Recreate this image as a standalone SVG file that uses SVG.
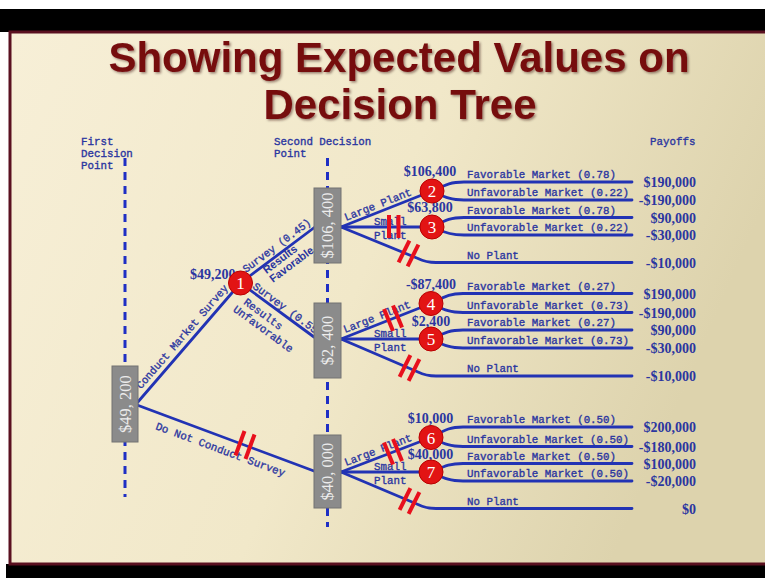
<svg xmlns="http://www.w3.org/2000/svg" width="765" height="578" viewBox="0 0 765 578">
<defs>
<linearGradient id="bg" x1="0" y1="0" x2="1" y2="0.3">
<stop offset="0" stop-color="#f7efd7"/>
<stop offset="0.55" stop-color="#f1e8c9"/>
<stop offset="1" stop-color="#ddd3ad"/>
</linearGradient>
<filter id="sh" x="-5%" y="-20%" width="110%" height="140%">
<feDropShadow dx="1.5" dy="1.5" stdDeviation="1" flood-color="#2a0000" flood-opacity="0.45"/>
</filter>
<style>
.t{font-family:"Liberation Sans",Arial,sans-serif;font-weight:bold;font-size:42px;fill:#760a0e;text-anchor:middle}
.m{font-family:"Liberation Mono","DejaVu Sans Mono",monospace;font-size:10.8px;fill:#2b36a0;stroke:#2b36a0;stroke-width:0.35}
.mb{font-family:"Liberation Serif","Times New Roman",serif;font-size:14px;font-weight:bold;fill:#2b36a0}
.pay{text-anchor:end}
.ev{text-anchor:middle}
.bs{font-family:"Liberation Sans",Arial,sans-serif;font-size:11px;font-weight:bold;fill:#2b36a0}
.br{stroke:#2233b4;stroke-width:2.8;fill:none;stroke-linecap:round;stroke-linejoin:round}
.dash{stroke:#1f2fc4;stroke-width:3;stroke-dasharray:8 6;fill:none}
.sq{fill:#8b8b8b;stroke:#737373;stroke-width:1}
.sqt{font-family:"Liberation Serif","Times New Roman",serif;font-size:16.5px;fill:#ececec;text-anchor:middle}
.ci{fill:#e21414;stroke:#b80000;stroke-width:1}
.cn{font-family:"Liberation Serif","Times New Roman",serif;font-size:17px;fill:#ffffff;text-anchor:middle}
.cut{stroke:#e8101c;stroke-width:4;fill:none}
</style>
</defs>

<rect x="0" y="0" width="765" height="578" fill="#ffffff"/>
<rect x="0" y="9" width="765" height="23" fill="#000000"/>
<rect x="6" y="564" width="759" height="14" fill="#000000"/>
<rect x="10" y="32" width="760" height="532" fill="url(#bg)" stroke="#5a1020" stroke-width="3"/>

<g id="title" filter="url(#sh)">
<text class="t" x="399" y="72">Showing Expected Values on</text>
<text class="t" x="400" y="119">Decision Tree</text>
</g>

<g id="headers">
<text class="m" x="81" y="145">First</text>
<text class="m" x="81" y="157">Decision</text>
<text class="m" x="81" y="169">Point</text>
<text class="m" x="274" y="145">Second Decision</text>
<text class="m" x="274" y="157">Point</text>
<text class="m" x="650" y="145">Payoffs</text>
</g>

<g id="guides">
<line class="dash" x1="125" y1="158" x2="125" y2="497"/>
<line class="dash" x1="327.5" y1="158" x2="327.5" y2="527"/>
</g>

<g id="connectors">
<path class="br" d="M137,403 L240.5,283"/>
<path class="br" d="M137,405 L314,471"/>
<path class="br" d="M240.5,283 L315,227"/>
<path class="br" d="M240.5,283 L314,337"/>

<path class="br" d="M341,227 L432,191"/>
<path class="br" d="M341,227 H432"/>
<path class="br" d="M341,227 L418,258.5 Q426,262.5 436,262.5 H632"/>
<path class="br" d="M432,191 C447,184 451,182 464,182 H632"/>
<path class="br" d="M432,191 C447,198 451,200 464,200 H632"/>
<path class="br" d="M432,227 C447,219.5 451,217.5 464,217.5 H632"/>
<path class="br" d="M432,227 C447,233 451,235 464,235 H632"/>

<path class="br" d="M341,339 L431,303.5"/>
<path class="br" d="M341,339 H431"/>
<path class="br" d="M341,339 L418,372 Q426,376 436,376 H632"/>
<path class="br" d="M431,303.5 C446,296 450,293.5 463,293.5 H632"/>
<path class="br" d="M431,303.5 C446,310.5 450,312.5 463,312.5 H632"/>
<path class="br" d="M431,339 C446,332 450,330 463,330 H632"/>
<path class="br" d="M431,339 C446,346 450,348 463,348 H632"/>

<path class="br" d="M341,472 L431,437.5"/>
<path class="br" d="M341,472 H431"/>
<path class="br" d="M341,472 L418,504.5 Q426,508.5 436,508.5 H632"/>
<path class="br" d="M431,437.5 C446,429.5 450,427 463,427 H632"/>
<path class="br" d="M431,437.5 C446,444.5 450,446.5 463,446.5 H632"/>
<path class="br" d="M431,472 C446,465.5 450,463.5 463,463.5 H632"/>
<path class="br" d="M431,472 C446,479 450,481 463,481 H632"/>
</g>

<g id="branch-labels">
<text class="m" transform="translate(141,389.6) rotate(-49.1)" textLength="134" lengthAdjust="spacingAndGlyphs">Conduct Market Survey</text>
<text class="m" transform="translate(155,429) rotate(20.3)" textLength="137" lengthAdjust="spacing">Do Not Conduct Survey</text>
<text class="m" transform="translate(246,273) rotate(-36.9)" textLength="82" lengthAdjust="spacingAndGlyphs">Survey (0.45)</text>
<g transform="translate(240.5,283) rotate(-36.9)">
<text class="bs" x="26" y="8.5">Results</text>
<text class="bs" x="26" y="19.5">Favorable</text>
</g>
<g transform="translate(240.5,283) rotate(36.3)">
<text class="m" x="12" y="-3">Survey (0.55)</text>
<text class="m" x="14" y="15">Results</text>
<text class="m" x="10" y="27">Unfavorable</text>
</g>

<text class="m" transform="translate(346,221) rotate(-21.6)">Large Plant</text>
<text class="m" x="374" y="225">Small</text>
<text class="m" x="374" y="239">Plant</text>
<text class="m" transform="translate(345,333) rotate(-21.3)">Large Plant</text>
<text class="m" x="374" y="337">Small</text>
<text class="m" x="374" y="351">Plant</text>
<text class="m" transform="translate(346,466) rotate(-21)">Large Plant</text>
<text class="m" x="374" y="470">Small</text>
<text class="m" x="374" y="484">Plant</text>

<text class="m" x="467" y="178">Favorable Market (0.78)</text>
<text class="m" x="467" y="196">Unfavorable Market (0.22)</text>
<text class="m" x="467" y="213.5">Favorable Market (0.78)</text>
<text class="m" x="467" y="231">Unfavorable Market (0.22)</text>
<text class="m" x="467" y="258.5">No Plant</text>

<text class="m" x="467" y="289.5">Favorable Market (0.27)</text>
<text class="m" x="467" y="308.5">Unfavorable Market (0.73)</text>
<text class="m" x="467" y="326">Favorable Market (0.27)</text>
<text class="m" x="467" y="344">Unfavorable Market (0.73)</text>
<text class="m" x="467" y="372">No Plant</text>

<text class="m" x="467" y="423">Favorable Market (0.50)</text>
<text class="m" x="467" y="442.5">Unfavorable Market (0.50)</text>
<text class="m" x="467" y="459.5">Favorable Market (0.50)</text>
<text class="m" x="467" y="477">Unfavorable Market (0.50)</text>
<text class="m" x="467" y="504.5">No Plant</text>
</g>

<g id="payoffs">
<text class="mb pay" x="696" y="187">$190,000</text>
<text class="mb pay" x="696" y="205">-$190,000</text>
<text class="mb pay" x="696" y="222.5">$90,000</text>
<text class="mb pay" x="696" y="240">-$30,000</text>
<text class="mb pay" x="696" y="267.5">-$10,000</text>
<text class="mb pay" x="696" y="298.5">$190,000</text>
<text class="mb pay" x="696" y="317.5">-$190,000</text>
<text class="mb pay" x="696" y="335">$90,000</text>
<text class="mb pay" x="696" y="353">-$30,000</text>
<text class="mb pay" x="696" y="381">-$10,000</text>
<text class="mb pay" x="696" y="432">$200,000</text>
<text class="mb pay" x="696" y="451.5">-$180,000</text>
<text class="mb pay" x="696" y="468.5">$100,000</text>
<text class="mb pay" x="696" y="486">-$20,000</text>
<text class="mb pay" x="696" y="513.5">$0</text>
</g>

<g id="cuts">
<line class="cut" x1="389" y1="215" x2="389" y2="238"/>
<line class="cut" x1="398.5" y1="215" x2="398.5" y2="238"/>
<line class="cut" x1="398.6" y1="262.3" x2="409.4" y2="240.7"/>
<line class="cut" x1="407.6" y1="266.3" x2="418.4" y2="244.7"/>
<line class="cut" x1="384" y1="309" x2="393" y2="331"/>
<line class="cut" x1="393" y1="305.5" x2="402" y2="327.5"/>
<line class="cut" x1="399.6" y1="376.8" x2="410.4" y2="355.2"/>
<line class="cut" x1="408.6" y1="380.8" x2="419.4" y2="359.2"/>
<line class="cut" x1="384" y1="442.5" x2="393" y2="464.5"/>
<line class="cut" x1="393" y1="439" x2="402" y2="461"/>
<line class="cut" x1="399.6" y1="509.8" x2="410.4" y2="488.2"/>
<line class="cut" x1="408.6" y1="513.8" x2="419.4" y2="492.2"/>
<line class="cut" x1="235.5" y1="455.5" x2="244.5" y2="431"/>
<line class="cut" x1="245.5" y1="459" x2="254.5" y2="434.5"/>
</g>

<g id="ev-labels">
<text class="mb" x="190" y="279">$49,200</text>
<text class="mb ev" x="430" y="176">$106,400</text>
<text class="mb ev" x="430" y="212">$63,800</text>
<text class="mb ev" x="431" y="289">-$87,400</text>
<text class="mb ev" x="431" y="326">$2,400</text>
<text class="mb ev" x="430.5" y="423">$10,000</text>
<text class="mb ev" x="430.5" y="459">$40,000</text>
</g>

<g id="node-s0"><rect class="sq" x="112" y="366" width="26" height="76"/><text class="sqt" transform="translate(125,404) rotate(-90)" y="5.5">$49, 200</text></g>
<g id="node-s1"><rect class="sq" x="314" y="188" width="27" height="75"/><text class="sqt" transform="translate(327.5,225.5) rotate(-90)" y="5.5">$106, 400</text></g>
<g id="node-s2"><rect class="sq" x="314" y="303" width="27" height="75"/><text class="sqt" transform="translate(327.5,340.5) rotate(-90)" y="5.5">$2, 400</text></g>
<g id="node-s3"><rect class="sq" x="314" y="435" width="27" height="73"/><text class="sqt" transform="translate(327.5,471.5) rotate(-90)" y="5.5">$40, 000</text></g>

<g id="node-c1"><circle class="ci" cx="240.5" cy="283" r="12"/><text class="cn" x="240.5" y="289">1</text></g>
<g id="node-c2"><circle class="ci" cx="432" cy="191" r="12"/><text class="cn" x="432" y="197">2</text></g>
<g id="node-c3"><circle class="ci" cx="432" cy="227" r="12"/><text class="cn" x="432" y="233">3</text></g>
<g id="node-c4"><circle class="ci" cx="431" cy="303.5" r="12"/><text class="cn" x="431" y="309.5">4</text></g>
<g id="node-c5"><circle class="ci" cx="431" cy="339" r="12"/><text class="cn" x="431" y="345">5</text></g>
<g id="node-c6"><circle class="ci" cx="431" cy="437.5" r="12"/><text class="cn" x="431" y="443.5">6</text></g>
<g id="node-c7"><circle class="ci" cx="431" cy="472" r="12"/><text class="cn" x="431" y="478">7</text></g>
</svg>
